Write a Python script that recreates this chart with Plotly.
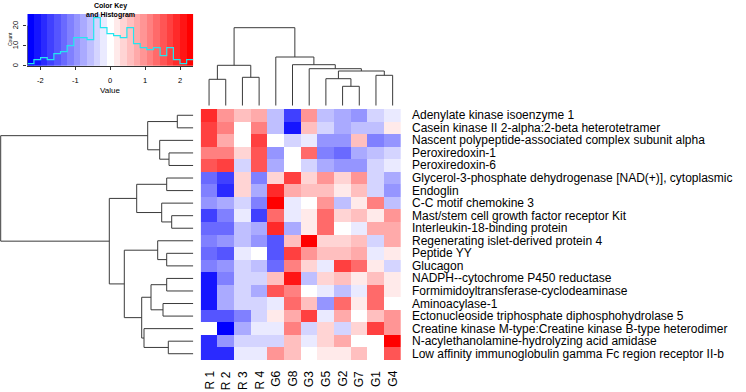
import plotly.graph_objects as go

W, H = 746, 392

col_labels = ["R 1", "R 2", "R 3", "R 4", "G6", "G8", "G3", "G5", "G2", "G7", "G1", "G4"]
row_labels = [
    "Adenylate kinase isoenzyme 1",
    "Casein kinase II 2-alpha:2-beta heterotetramer",
    "Nascent polypeptide-associated complex subunit alpha",
    "Peroxiredoxin-1",
    "Peroxiredoxin-6",
    "Glycerol-3-phosphate dehydrogenase [NAD(+)], cytoplasmic",
    "Endoglin",
    "C-C motif chemokine 3",
    "Mast/stem cell growth factor receptor Kit",
    "Interleukin-18-binding protein",
    "Regenerating islet-derived protein 4",
    "Peptide YY",
    "Glucagon",
    "NADPH--cytochrome P450 reductase",
    "Formimidoyltransferase-cyclodeaminase",
    "Aminoacylase-1",
    "Ectonucleoside triphosphate diphosphohydrolase 5",
    "Creatine kinase M-type:Creatine kinase B-type heterodimer",
    "N-acylethanolamine-hydrolyzing acid amidase",
    "Low affinity immunoglobulin gamma Fc region receptor II-b",
]

# row-scaled values (rows top->bottom, columns in displayed order)
values = [
    [1.90, 0.95, 0.57, 0.76, -0.57, -1.71, 0.95, -0.57, -0.76, -0.95, -0.38, -0.19],
    [1.71, 1.14, 0.00, 1.14, -0.57, -2.09, 0.57, -0.38, -0.76, -0.57, -0.57, 0.19],
    [1.71, 0.76, 0.00, 1.71, 0.00, -0.38, -0.19, -0.95, -0.95, 0.57, -1.14, -0.95],
    [1.14, 1.14, 0.38, 1.52, -0.95, 0.00, 1.33, -1.14, -1.33, -0.76, -0.57, -0.38],
    [1.52, 1.71, -0.38, 1.52, -0.76, 0.00, -0.38, -0.76, -0.95, -0.95, -0.38, -0.19],
    [-1.33, -1.71, 0.38, -1.14, 0.38, 1.71, 0.38, 0.95, 0.38, 0.95, -0.38, -0.76],
    [-1.14, -1.90, 0.38, -0.76, 1.90, 0.76, 0.57, 0.57, 0.19, 0.57, -0.38, -0.95],
    [-0.95, -0.76, -0.38, -1.14, 2.28, -0.19, 0.00, 0.95, -0.57, 0.19, 1.14, -0.57],
    [-1.71, -1.14, -0.19, -1.71, 1.33, -0.19, 0.19, 1.33, 0.38, 0.57, 0.19, 0.95],
    [-1.33, -1.33, -0.57, -0.76, 1.90, -0.76, 0.19, 1.33, 0.00, -0.19, 0.76, 0.76],
    [-1.14, -0.95, -0.57, -0.95, -1.52, 0.57, 2.28, 0.38, 0.38, 0.57, -0.38, 0.76],
    [-1.33, -1.52, -0.19, 0.00, -1.52, 1.71, 0.95, 0.57, 0.57, 0.76, -0.19, 0.19],
    [-1.14, -0.95, -0.38, -0.57, -1.33, 1.14, 0.38, -0.19, 1.71, 1.33, 0.19, -0.38],
    [-2.09, -1.14, -0.38, -0.38, 0.57, 2.09, -0.57, 0.38, 0.57, 0.19, 0.57, 0.19],
    [-2.09, -0.76, -0.38, -0.76, 1.52, 1.14, 0.00, -0.19, -0.57, -0.19, 1.33, 0.19],
    [-2.09, -0.76, -0.38, -0.38, -0.19, 1.33, 0.57, -0.95, 1.33, 0.19, 1.33, 0.00],
    [-1.52, -1.52, -1.14, -0.38, 0.19, 0.76, 1.71, -0.19, 0.76, 0.00, 0.57, 0.95],
    [0.00, -2.28, -0.76, -0.19, -0.19, 1.14, -0.38, 0.38, -0.38, 0.38, 1.71, 0.95],
    [-1.90, -0.95, -0.38, -0.38, -0.38, 0.57, -0.19, 0.38, 0.76, 0.00, 0.00, 2.28],
    [-1.90, -1.90, -0.19, -0.19, 0.95, 0.57, 0.00, 0.19, 0.19, 0.57, 0.00, 1.52],
]

# colour key histogram (counts per break bin)
hist_counts = [1, 3, 4, 3, 6, 7, 10, 14, 14, 13, 24, 19, 16, 15, 14, 19, 11, 9, 8, 9, 5, 9, 3, 1, 3]
key_min, key_max = -2.375, 2.375
key_ticks = [-2, -1, 0, 1, 2]
count_ticks = [0, 10, 20]

# dendrograms in R hclust "merge" convention (negative = leaf in display order)
col_merge_a = [-9, -1, -8, -3, -11, 3, -7, 2, -6, -5, 8]
col_merge_b = [-10, -2, 1, -4, -12, 5, 6, 4, 7, 9, 10]
col_height = [19.4, 26.4, 27.0, 28.4, 30.4, 34.7, 37.0, 40.4, 41.0, 48.7, 78.0]

row_merge_a = [-1, -9, -4, -19, -6, -12, -14, -16, -8, -3, -11, 7, 1, -18, 12, 5, 11, 16, 13]
row_merge_b = [-2, -10, -5, -20, -7, -13, -15, -17, 2, 3, 6, 8, 10, 4, 14, 9, 15, 17, 18]
row_height = [16.0, 21.6, 24.3, 25.0, 26.6, 26.6, 26.6, 30.3, 31.6, 33.6, 35.6, 42.3,
              45.6, 49.3, 51.6, 56.6, 69.0, 84.0, 192.6]


def px_x(p):
    return p / W


def px_y(p):
    return 1 - p / H


n_bins = len(hist_counts)
bin_w = (key_max - key_min) / n_bins
breaks = [key_min + i * bin_w for i in range(n_bins + 1)]
centers = [(breaks[i] + breaks[i + 1]) / 2 for i in range(n_bins)]
half = (n_bins - 1) // 2


def bin_color(k):
    if k <= half:
        t = k / half
        v = round(255 * t)
        return f"rgb({v},{v},255)"
    t = (k - half) / half
    v = round(255 * (1 - t))
    return f"rgb(255,{v},{v})"


colorscale = []
for k in range(n_bins):
    c = bin_color(k)
    colorscale.append([k / n_bins, c])
    colorscale.append([(k + 1) / n_bins, c])


def dendro(ma, mb, hs):
    pos, hgt = {}, {}
    P, Hh = [], []
    for k, (a, b, h) in enumerate(zip(ma, mb, hs), start=1):
        def get(c):
            if c < 0:
                return -c - 1, 0.0
            return pos[c], hgt[c]
        pa, ha = get(a)
        pb, hb = get(b)
        P += [pa, pa, pb, pb, None]
        Hh += [ha, h, h, hb, None]
        pos[k] = (pa + pb) / 2
        hgt[k] = h
    return P, Hh


fig = go.Figure()

# heatmap
hm_x0, hm_x1 = 200.7, 401.0
hm_y0, hm_y1 = 109.0, 360.0
fig.add_trace(go.Heatmap(
    z=values, x=list(range(len(col_labels))), y=list(range(len(row_labels))),
    colorscale=colorscale, zmin=key_min, zmax=key_max, showscale=False,
    xaxis="x", yaxis="y", hoverinfo="skip"))

# column dendrogram
cp, ch = dendro(col_merge_a, col_merge_b, col_height)
fig.add_trace(go.Scatter(x=cp, y=ch, mode="lines", line=dict(color="#3a3a3a", width=1),
                         xaxis="x2", yaxis="y2", hoverinfo="skip", showlegend=False))

# row dendrogram
rp, rh = dendro(row_merge_a, row_merge_b, row_height)
fig.add_trace(go.Scatter(x=rh, y=rp, mode="lines", line=dict(color="#3a3a3a", width=1),
                         xaxis="x3", yaxis="y3", hoverinfo="skip", showlegend=False))

# colour key
key_top = 25.85
fig.add_trace(go.Heatmap(
    z=[centers], x=breaks, y=[0, key_top], colorscale=colorscale, zmin=key_min, zmax=key_max,
    showscale=False, xaxis="x4", yaxis="y4", hoverinfo="skip"))
fig.add_trace(go.Scatter(
    x=breaks, y=hist_counts + [hist_counts[-1]], mode="lines",
    line=dict(color="#22e6f0", width=1.2, shape="hv"),
    xaxis="x4", yaxis="y4", hoverinfo="skip", showlegend=False))

hidden = dict(showgrid=False, zeroline=False, showticklabels=False, ticks="", showline=False)
kx0, kx1, ky0, ky1 = 27.3, 193.3, 14.0, 65.7
dy_top = 1.0  # column dendrogram axis top (px)

fig.update_layout(
    width=W, height=H, margin=dict(l=0, r=0, t=0, b=0),
    paper_bgcolor="white", plot_bgcolor="rgba(0,0,0,0)", showlegend=False,
    font=dict(family="Liberation Sans, Arial, sans-serif", color="black"),
    xaxis=dict(domain=[px_x(hm_x0), px_x(hm_x1)], range=[-0.5, 11.5], anchor="y", **hidden),
    yaxis=dict(domain=[px_y(hm_y1), px_y(hm_y0)], range=[19.5, -0.5], anchor="x", **hidden),
    xaxis2=dict(domain=[px_x(hm_x0), px_x(hm_x1)], range=[-0.5, 11.5], anchor="y2", **hidden),
    yaxis2=dict(domain=[px_y(105.7), px_y(dy_top)], range=[0, 105.7 - dy_top], anchor="x2", **hidden),
    xaxis3=dict(domain=[0, px_x(193.3)], range=[193.3, 0], anchor="y3", **hidden),
    yaxis3=dict(domain=[px_y(hm_y1), px_y(hm_y0)], range=[19.5, -0.5], anchor="x3", **hidden),
    xaxis4=dict(domain=[px_x(kx0), px_x(kx1)], range=[key_min, key_max], anchor="y4",
                showgrid=False, zeroline=False, showticklabels=False, ticks="outside", ticklen=3,
                tickwidth=1, tickcolor="#333", tickvals=key_ticks, showline=True, linecolor="#333",
                linewidth=1),
    yaxis4=dict(domain=[px_y(ky1), px_y(ky0)], range=[0, key_top], anchor="x4",
                showgrid=False, zeroline=False, showticklabels=False, ticks="outside", ticklen=3,
                tickwidth=1, tickcolor="#333", tickvals=count_ticks, showline=False),
)

# left axis line of the key (from first to last tick)
fig.add_shape(type="line", xref="x4", yref="y4", x0=key_min, x1=key_min,
              y0=count_ticks[0], y1=count_ticks[-1], line=dict(color="#333", width=1))

ann = []
for i, lab in enumerate(row_labels):
    ann.append(dict(text=lab, x=px_x(411.0), y=i, xref="paper", yref="y", xanchor="left",
                    yanchor="middle", showarrow=False, borderpad=0, font=dict(size=12)))
for j, lab in enumerate(col_labels):
    ann.append(dict(text=lab, x=j, y=px_y(370.0), xref="x", yref="paper", xanchor="center",
                    yanchor="top", textangle=-90, showarrow=False, borderpad=0, font=dict(size=12)))
for t in key_ticks:
    ann.append(dict(text=str(t), x=t, y=px_y(80), xref="x4", yref="paper", xanchor="center",
                    yanchor="middle", showarrow=False, borderpad=0, font=dict(size=7.5)))
for t in count_ticks:
    ann.append(dict(text=str(t), x=px_x(15.5), y=t, xref="paper", yref="y4", xanchor="center",
                    yanchor="middle", textangle=-90, showarrow=False, borderpad=0, font=dict(size=7.5)))
ann.append(dict(text="Value", x=px_x(110.3), y=px_y(90.5), xref="paper", yref="paper",
                xanchor="center", yanchor="middle", showarrow=False, borderpad=0, font=dict(size=8)))
ann.append(dict(text="Count", x=px_x(10.0), y=px_y(39), xref="paper", yref="paper",
                xanchor="center", yanchor="middle", textangle=-90, showarrow=False, borderpad=0,
                font=dict(size=5)))
ann.append(dict(text="<b>Color Key</b><br><b>and Histogram</b>", x=px_x(110.3), y=px_y(0.5),
                xref="paper", yref="paper", xanchor="center", yanchor="top", showarrow=False,
                borderpad=0, font=dict(size=7)))
fig.update_layout(annotations=ann)

fig.write_html(
    "out.html",
    config={"displayModeBar": False, "staticPlot": True},
    post_script="document.body.style.margin='0';document.body.style.padding='0';"
                "document.body.style.overflow='hidden';",
)
